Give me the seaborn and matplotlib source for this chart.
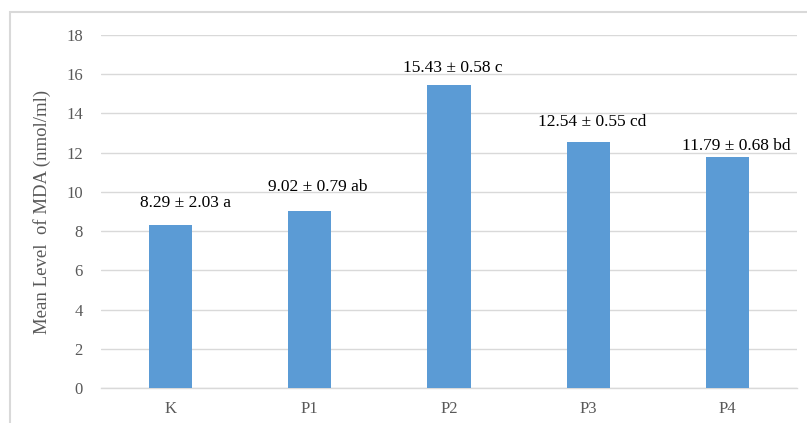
import matplotlib
matplotlib.use("Agg")
import matplotlib.pyplot as plt
import seaborn as sns
import pandas as pd
from matplotlib.patches import Rectangle

categories = ["K", "P1", "P2", "P3", "P4"]
means = [8.29, 9.02, 15.43, 12.54, 11.79]
sds = [2.03, 0.79, 0.58, 0.55, 0.68]
letters = ["a", "ab", "c", "cd", "bd"]
yticks = [0, 2, 4, 6, 8, 10, 12, 14, 16, 18]

# label offsets (pixels) relative to bar tops
label_dx = [15, 8, 4, 4, 9]
label_dy = [22, 24, 17, 20, 11]

sns.set_theme(style="white")
plt.rcParams["font.family"] = ["Liberation Serif", "DejaVu Serif"]

df = pd.DataFrame({"group": categories, "mda": means})

fig = plt.figure(figsize=(8.07, 4.23), dpi=100)
ax = fig.add_axes([101 / 807, 1 - 388 / 423, 696 / 807, 353 / 423])

sns.barplot(data=df, x="group", y="mda", color="#5B9BD5", saturation=1,
            width=0.31, linewidth=0, ax=ax, zorder=3)

ax.set_ylim(0, 18)
ax.set_xlim(-0.5, len(categories) - 0.5)
ax.set_yticks(yticks)
ax.set_yticklabels([str(t) for t in yticks])
ax.yaxis.grid(True, color="#D9D9D9", linewidth=1.0, zorder=0)
ax.set_axisbelow(True)
for s in ["top", "right", "left"]:
    ax.spines[s].set_visible(False)
ax.spines["bottom"].set_color("#D9D9D9")
ax.spines["bottom"].set_linewidth(1.0)
ax.tick_params(axis="both", length=0, labelsize=12, colors="#595959")
ax.tick_params(axis="y", pad=13)
ax.tick_params(axis="x", pad=9)
ax.set_xlabel("")
ax.set_ylabel("Mean Level  of MDA (nmol/ml)", fontsize=13.5, color="#595959", labelpad=11)

for i, (m, s, l) in enumerate(zip(means, sds, letters)):
    ax.annotate(f"{m:.2f} ± {s:.2f} {l}", xy=(i, m), xytext=(label_dx[i], label_dy[i]),
                textcoords="offset pixels", ha="center", va="center",
                fontsize=12.5, color="black")

fig.patches.append(Rectangle((10 / 807, -0.2), 1.2, 1 - 12 / 423 + 0.2,
                             transform=fig.transFigure, fill=False,
                             edgecolor="#D9D9D9", linewidth=1.5))

fig.savefig("out.png", dpi=100, facecolor="white")
